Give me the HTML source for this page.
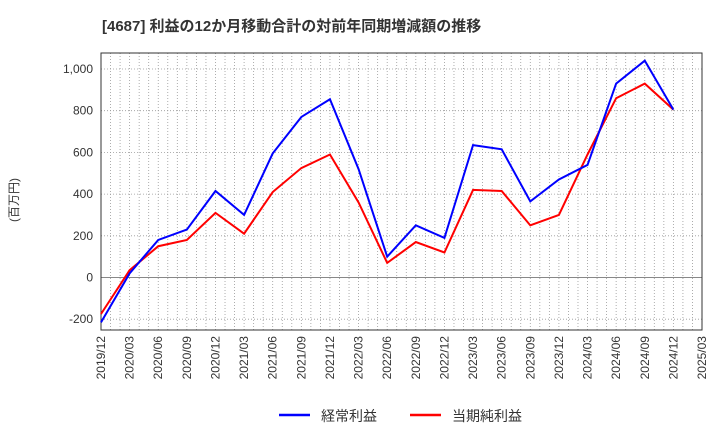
<!DOCTYPE html>
<html><head><meta charset="utf-8"><style>
body{margin:0;background:#fff;}
svg text{font-family:"Liberation Sans","Noto Sans CJK JP",sans-serif;}
</style></head><body>
<svg id="c" width="720" height="440" xmlns="http://www.w3.org/2000/svg">
<text x="102" y="31" font-size="15" font-weight="bold" fill="#333">[4687]  利益の12か月移動合計の対前年同期増減額の推移</text>
<text transform="translate(18,200) rotate(-90)" font-size="12" fill="#333" text-anchor="middle">(百万円)</text>
<g id="grid"></g><g id="axes"></g><g id="series"></g>
<g>
<line x1="279" y1="415" x2="310" y2="415" stroke="#0000ff" stroke-width="2.5"/>
<text x="321" y="421" font-size="14" fill="#333">経常利益</text>
<line x1="410" y1="415" x2="441" y2="415" stroke="#ff0000" stroke-width="2.5"/>
<text x="452" y="421" font-size="14" fill="#333">当期純利益</text>
</g>
</svg>
<script>
const categories=["2019/12","2020/03","2020/06","2020/09","2020/12","2021/03","2021/06","2021/09","2021/12","2022/03","2022/06","2022/09","2022/12","2023/03","2023/06","2023/09","2023/12","2024/03","2024/06","2024/09","2024/12","2025/03"];
const ordinaryProfit=[-215,20,180,230,415,300,595,770,855,520,100,250,190,635,615,365,470,540,930,1040,805];
const netProfit=[-175,35,150,180,310,210,410,525,590,360,70,170,120,420,415,250,300,590,860,930,805];
const yTicks=[-200,0,200,400,600,800,1000];
const yTickLabels=["-200","0","200","400","600","800","1,000"];
const L=101,R=702,T=53,B=330;
const NS="http://www.w3.org/2000/svg";
const x=i=>L+i*(R-L)/(categories.length-1);
const y=v=>277.5-v*0.2085;
function mk(tag,attrs,parent){const e=document.createElementNS(NS,tag);for(const k in attrs)e.setAttribute(k,attrs[k]);document.getElementById(parent).appendChild(e);return e;}
for(let m=1;m<(categories.length-1)*3;m++){const xx=L+m*(R-L)/((categories.length-1)*3);
const g=mk('line',{x1:xx,x2:xx,y1:T,y2:B,stroke:'#999','stroke-dasharray':'1,2','stroke-width':0.8},'grid');

}
yTicks.forEach((v,i)=>{const g=mk('line',{x1:L,x2:R,y1:y(v),y2:y(v),stroke:v===0?'#888':'#999','stroke-dasharray':v===0?'none':'1,2','stroke-width':v===0?1:0.8},'grid');


const t=mk('text',{x:L-8,y:y(v)+4,'font-size':12,'text-anchor':'end',fill:'#333'},'axes');t.textContent=yTickLabels[i];

});
const fr=mk('rect',{x:L,y:T,width:R-L,height:B-T,fill:'none',stroke:'#333','stroke-width':1},'axes');


categories.forEach((c,i)=>{const t=mk('text',{transform:`translate(${x(i)+4},${B+6}) rotate(-90)`,'font-size':12,'text-anchor':'end',fill:'#333'},'axes');t.textContent=c;

});
function line(data,color,name){const p=mk('polyline',{points:data.map((v,i)=>x(i)+','+y(v)).join(' '),fill:'none',stroke:color,'stroke-width':2},'series');

}
line(netProfit,'#ff0000','net-profit-line');
line(ordinaryProfit,'#0000ff','ordinary-profit-line');
</script>
</body></html>
